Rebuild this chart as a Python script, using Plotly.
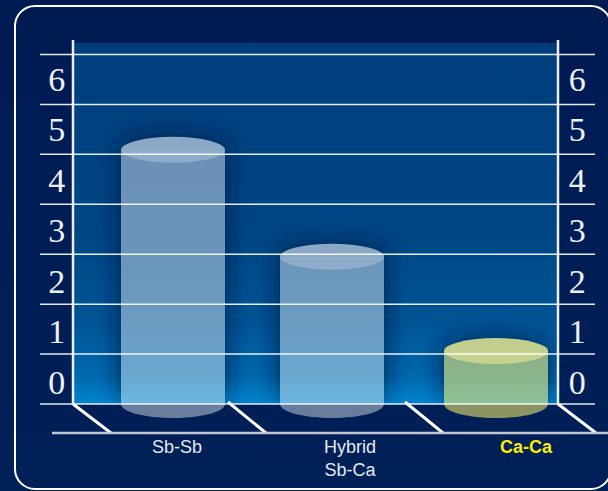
import base64
import plotly.graph_objects as go

# --- data ---
categories = ["Sb-Sb", "Hybrid<br>Sb-Ca", "<b><span style='color:#ffee00'>Ca-Ca</span></b>"]
values = [5.09, 2.95, 1.06]
y_tick_labels = ["0", "1", "2", "3", "4", "5", "6"]
grid_values = [0, 1, 2, 3, 4, 5, 6, 7]

# --- layout constants (pixels) ---
W, H = 608, 491
L, R, T, B = 40, 0, 40, 58
BASE_PX = 404.0
UNIT_PX = 49.93
y_lo = -(H - B - BASE_PX) / UNIT_PX
y_hi = (BASE_PX - T) / UNIT_PX
bar_centres = [173, 332, 496]
label_centres = [177, 350, 526]
BAR_W = 104
AX_L, AX_R = 73, 558
floor_starts = [(73, 0), (228, 0.04), (405, 0.04), (558, 0)]
FLOOR_DX = 38
body = ["rgba(255,255,255,0.42)", "rgba(255,255,255,0.42)", "rgba(250,240,110,0.56)"]
caps = ["rgba(143,172,202,0.97)", "rgba(143,172,202,0.97)", "rgba(200,212,144,0.97)"]
LABEL_OFFSET, LABEL_STEP = 0.44, 1.0117


def py(v):
    return BASE_PX - v * UNIT_PX


# background artwork (frame, plot gradient, soft shadows round the bars)
wall_path = f"M{AX_L},43 H{AX_R} V{BASE_PX} H{AX_L} Z"
shadow = ""
cutouts = ""
for c, v in zip(bar_centres, values):
    x = c - BAR_W / 2 - 2
    y = py(v) - 14
    shadow += f"<rect x='{x}' y='{y}' width='{BAR_W + 4}' height='{BASE_PX - y}' rx='40' ry='14' fill='#001c44' fill-opacity='0.8' filter='url(#blur)'/>"
    cutouts += f" M{c - BAR_W / 2},{py(v)} h{BAR_W} V{BASE_PX} h{-BAR_W} Z"
svg = f"""<svg xmlns='http://www.w3.org/2000/svg' width='{W}' height='{H}' viewBox='0 0 {W} {H}'>
<defs>
<linearGradient id='page' x1='0' y1='0' x2='0' y2='1'><stop offset='0' stop-color='#001a52'/><stop offset='1' stop-color='#002058'/></linearGradient>
<linearGradient id='wall' x1='0' y1='0' x2='0' y2='1'>
<stop offset='0' stop-color='#003d7c'/><stop offset='0.55' stop-color='#004785'/><stop offset='0.78' stop-color='#005596'/><stop offset='0.92' stop-color='#0068ad'/><stop offset='1' stop-color='#0084cc'/></linearGradient>
<filter id='blur' x='-40%' y='-40%' width='180%' height='180%'><feGaussianBlur stdDeviation='11'/></filter>
<clipPath id='wallclip'><path clip-rule='evenodd' d='{wall_path}{cutouts}'/></clipPath>
</defs>
<rect width='{W}' height='{H}' fill='url(#page)'/>
<rect x='{AX_L}' y='43' width='{AX_R - AX_L}' height='{BASE_PX - 43}' fill='url(#wall)'/>
<g clip-path='url(#wallclip)'>{shadow}</g>
<rect x='15' y='6' width='596' height='483' rx='20' ry='20' fill='none' stroke='#ffffff' stroke-width='2'/>
</svg>"""
svg_uri = "data:image/svg+xml;base64," + base64.b64encode(svg.encode()).decode()

fig = go.Figure()
fig.add_trace(go.Bar(x=bar_centres, y=values, width=BAR_W, marker=dict(color=body, line=dict(width=0)), hoverinfo="skip", showlegend=False))
fig.add_trace(go.Scatter(x=bar_centres, y=values, yaxis="y2", mode="markers", marker=dict(opacity=0), hoverinfo="skip", showlegend=False))

shapes = []
k = 0.5523
ry_top = 13 / UNIT_PX
ry_bot = 14 / UNIT_PX
for c, v, b, cap in zip(bar_centres, values, body, caps):
    x0, x1 = c - BAR_W / 2, c + BAR_W / 2
    rx = BAR_W / 2
    path = (f"M{x0},0 C{x0},{-k * ry_bot} {c - k * rx},{-ry_bot} {c},{-ry_bot} "
            f"C{c + k * rx},{-ry_bot} {x1},{-k * ry_bot} {x1},0 Z")
    shapes.append(dict(type="path", xref="x", yref="y", path=path, fillcolor=b, line=dict(width=0), layer="above"))
    shapes.append(dict(type="circle", xref="x", yref="y", x0=x0, x1=x1, y0=v - ry_top, y1=v + ry_top, fillcolor=cap, line=dict(width=0), layer="above"))
for g in grid_values:
    shapes.append(dict(type="line", xref="x", yref="y", x0=40, x1=595, y0=g, y1=g, line=dict(color="rgba(255,255,255,0.9)", width=1.5), layer="above"))
for ax in (AX_L, AX_R):
    shapes.append(dict(type="line", xref="x", yref="y", x0=ax, x1=ax, y0=0, y1=y_hi, line=dict(color="rgba(255,255,255,0.92)", width=2.5), layer="above"))
for fx, fy in floor_starts:
    shapes.append(dict(type="line", xref="x", yref="y", x0=fx, x1=fx + FLOOR_DX, y0=fy, y1=y_lo, line=dict(color="#ffffff", width=3), layer="above"))
shapes.append(dict(type="line", xref="x", yref="paper", x0=52, x1=608, y0=0, y1=0, line=dict(color="#c4c8d4", width=2.5), layer="above"))

ytickvals = [LABEL_OFFSET + int(t) * LABEL_STEP for t in y_tick_labels]
axis_y = dict(range=[y_lo, y_hi], tickvals=ytickvals, ticktext=y_tick_labels, showgrid=False, zeroline=False, showline=False,
              ticks="outside", tickcolor="rgba(0,0,0,0)", tickfont=dict(family="Liberation Serif", size=34, color="#eef1f6"), anchor="free")
fig.update_layout(
    width=W, height=H, margin=dict(l=L, r=R, t=T, b=B, pad=0, autoexpand=False),
    paper_bgcolor="#001f5a", plot_bgcolor="rgba(0,0,0,0)", showlegend=False, bargap=0,
    xaxis=dict(range=[L, W - R], tickvals=label_centres, ticktext=categories, showgrid=False, zeroline=False, showline=False,
               ticks="", ticklabelstandoff=1, tickfont=dict(family="Liberation Sans", size=18, color="#e6e9f0")),
    yaxis=dict(axis_y, position=(AX_L - L) / (W - L - R), side="left", ticklen=1),
    yaxis2=dict(axis_y, position=(AX_R - L) / (W - L - R), side="right", overlaying="y", ticklen=3),
    shapes=shapes,
    images=[dict(source=svg_uri, xref="paper", yref="paper", x=-L / (W - L - R), y=1 + T / (H - T - B),
                 sizex=W / (W - L - R), sizey=H / (H - T - B), sizing="stretch", xanchor="left", yanchor="top", layer="below")],
)
fig.write_html("out.html", config={"displayModeBar": False},
               post_script="document.body.style.margin='0';document.documentElement.style.background='#001f5a';document.body.style.overflow='hidden';")
